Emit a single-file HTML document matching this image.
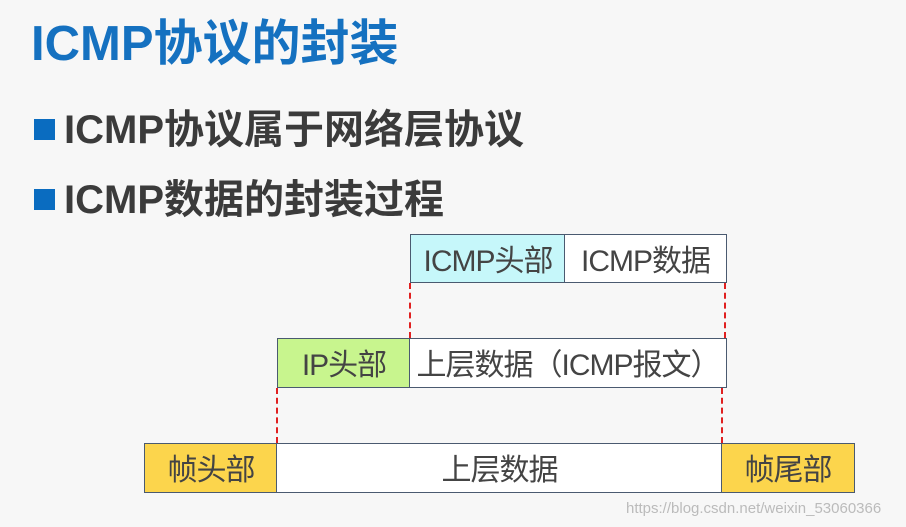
<!DOCTYPE html>
<html><head><meta charset="utf-8"><style>
body{margin:0;width:906px;height:527px;background:#f7f7f7;position:relative;overflow:hidden;font-family:"Liberation Sans","Noto Sans CJK SC",sans-serif}
.t{position:absolute;left:31px;top:4px;font-size:49px;font-weight:bold;color:#1571c0;letter-spacing:0px;white-space:nowrap}
.b{position:absolute;left:34px;font-size:40px;font-weight:bold;color:#3b3b3b;white-space:nowrap}
.b i{display:inline-block;width:21px;height:21px;background:#0a6cc0;margin-right:9px;vertical-align:3px}
.bx{position:absolute;box-sizing:border-box;border:1.5px solid #4a5a70;display:flex;align-items:center;justify-content:center;font-size:30px;color:#444;white-space:nowrap;letter-spacing:-1px;padding-bottom:2px}
.d{position:absolute;width:0;border-left:2px dashed #e02020}
.w{position:absolute;left:626px;top:500px;font-size:15px;color:#bbb}
</style></head><body>
<div class="t">ICMP协议的封装</div>
<div class="b" style="top:97px"><i></i>ICMP协议属于网络层协议</div>
<div class="b" style="top:167px"><i></i>ICMP数据的封装过程</div>

<div class="bx" style="left:410px;top:234px;width:156px;height:49px;background:#c6f7fa">ICMP头部</div>
<div class="bx" style="left:564px;top:234px;width:163px;height:49px;background:#fff">ICMP数据</div>

<div class="d" style="left:409px;top:283px;height:55px"></div>
<div class="d" style="left:724px;top:283px;height:55px"></div>

<div class="bx" style="left:277px;top:338px;width:134px;height:50px;background:#c8f58e">IP头部</div>
<div class="bx" style="left:409px;top:338px;width:318px;height:50px;background:#fff">上层数据（ICMP报文）</div>

<div class="d" style="left:276px;top:388px;height:55px"></div>
<div class="d" style="left:721px;top:388px;height:55px"></div>

<div class="bx" style="left:144px;top:443px;width:134px;height:50px;background:#fcd54c">帧头部</div>
<div class="bx" style="left:276px;top:443px;width:447px;height:50px;background:#fff">上层数据</div>
<div class="bx" style="left:721px;top:443px;width:134px;height:50px;background:#fcd54c">帧尾部</div>

<div class="w">https://blog.csdn.net/weixin_53060366</div>
</body></html>
